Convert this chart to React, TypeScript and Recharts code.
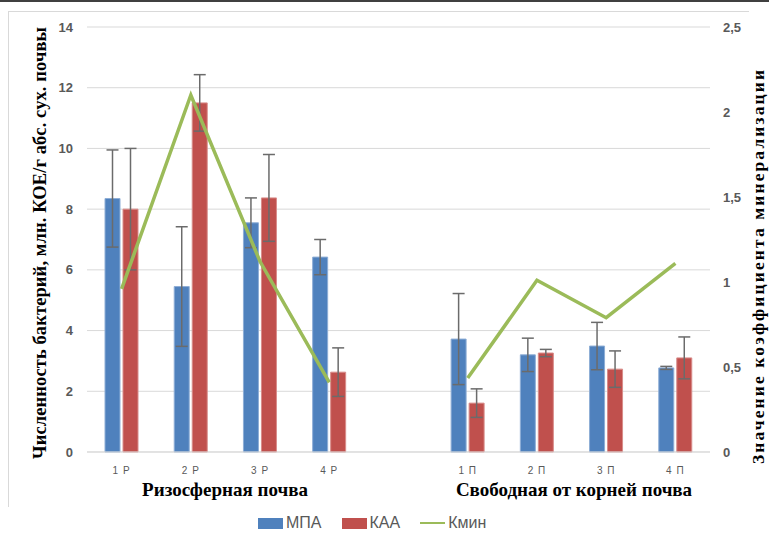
import {
  ComposedChart,
  Bar,
  Line,
  XAxis,
  YAxis,
  CartesianGrid,
  ErrorBar,
} from 'recharts';

const categories = ['1 Р', '2 Р', '3 Р', '4 Р', '', '1 П', '2 П', '3 П', '4 П'];
const mpa = [8.35, 5.45, 7.55, 6.42, null, 3.72, 3.2, 3.49, 2.77];
const mpaErr = [1.6, 1.97, 0.82, 0.58, null, 1.5, 0.55, 0.78, 0.05];
const kaa = [8.0, 11.5, 8.37, 2.63, null, 1.61, 3.26, 2.73, 3.1];
const kaaErr = [2.0, 0.93, 1.43, 0.8, null, 0.47, 0.12, 0.6, 0.69];
const kmin = [0.96, 2.1, 1.12, 0.41, null, 0.435, 1.01, 0.79, 1.11];

const leftTicks = [0, 2, 4, 6, 8, 10, 12, 14];
const rightTicks = [0, 0.5, 1, 1.5, 2, 2.5];

const groupLabels = [
  { text: 'Ризосферная почва', x: 225 },
  { text: 'Свободная от корней почва', x: 574 },
];

const leftTitle = 'Численность бактерий, млн. КОЕ/г абс. сух. почвы';
const rightTitle = 'Значение коэффициента минерализации';

const data = categories.map((name, i) => ({
  name,
  mpa: mpa[i],
  mpaErr: mpaErr[i],
  kaa: kaa[i],
  kaaErr: kaaErr[i],
  kmin: kmin[i],
}));

const BLUE = '#4f81bd';
const RED = '#c0504d';
const GREEN = '#9bbb59';
const GRID = '#d9d9d9';
const TICK = '#595959';
const ERR = '#6b6b6b';

const serif = '"Liberation Serif", "Times New Roman", serif';
const sans = '"Liberation Sans", Arial, sans-serif';

function LegendItem({ color, label, line }: { color: string; label: string; line?: boolean }) {
  return (
    <div style={{ display: 'flex', alignItems: 'center', marginRight: 20 }}>
      {line ? (
        <div style={{ width: 25, height: 2, background: color, marginRight: 3 }} />
      ) : (
        <div style={{ width: 25, height: 11, background: color, marginRight: 3 }} />
      )}
      <span style={{ fontFamily: sans, fontSize: 16, color: TICK }}>{label}</span>
    </div>
  );
}

export default function App() {
  return (
    <div style={{ position: 'absolute', left: 0, top: 0, width: 769, height: 534, background: '#fff' }}>
      <div style={{ position: 'absolute', left: 0, top: 0, width: 769, height: 2, background: '#404040' }} />
      <div
        style={{
          position: 'absolute',
          left: 8,
          top: 11,
          width: 740,
          height: 495,
          borderTop: `1px solid ${GRID}`,
          borderLeft: `1px solid ${GRID}`,
        }}
      />
      <div style={{ position: 'absolute', left: 0, top: 0 }}>
        <ComposedChart
          width={769}
          height={534}
          data={data}
          margin={{ top: 27, right: 14, bottom: 52, left: 25 }}
          barSize={15}
          barGap={3}
        >
          <CartesianGrid vertical={false} stroke={GRID} strokeWidth={1} yAxisId="left" />
          <XAxis
            dataKey="name"
            axisLine={{ stroke: GRID }}
            tickLine={false}
            tickMargin={9}
            height={30}
            tick={{ fill: TICK, fontSize: 10, fontFamily: sans, letterSpacing: 1 }}
          />
          <YAxis
            yAxisId="left"
            orientation="left"
            width={62}
            domain={[0, 14]}
            ticks={leftTicks}
            axisLine={false}
            tickLine={false}
            tickSize={0}
            tickMargin={14}
            tick={{ fill: TICK, fontSize: 13, fontWeight: 'bold', fontFamily: sans }}
          />
          <YAxis
            yAxisId="right"
            orientation="right"
            width={45}
            domain={[0, 2.5]}
            ticks={rightTicks}
            axisLine={false}
            tickLine={false}
            tickSize={0}
            tickMargin={13}
            tickFormatter={(v: number) => String(v).replace('.', ',')}
            tick={{ fill: TICK, fontSize: 13, fontWeight: 'bold', fontFamily: sans, textAnchor: 'start' }}
          />
          <Bar yAxisId="left" dataKey="mpa" name="МПА" fill={BLUE} stroke="#8eaed6" strokeWidth={1} isAnimationActive={false}>
            <ErrorBar dataKey="mpaErr" width={6} stroke={ERR} strokeWidth={1.5} direction="y" />
          </Bar>
          <Bar yAxisId="left" dataKey="kaa" name="КАА" fill={RED} stroke="#d88c8a" strokeWidth={1} isAnimationActive={false}>
            <ErrorBar dataKey="kaaErr" width={6} stroke={ERR} strokeWidth={1.5} direction="y" />
          </Bar>
          <Line
            yAxisId="right"
            type="linear"
            dataKey="kmin"
            name="Кмин"
            stroke={GREEN}
            strokeWidth={3.5}
            dot={false}
            activeDot={false}
            isAnimationActive={false}
          />
          <text
            x={40}
            y={243}
            transform="rotate(-90 40 243)"
            textAnchor="middle"
            dominantBaseline="central"
            fontFamily={serif}
            fontWeight="bold"
            fontSize={18.5}
            textLength={432}
            lengthAdjust="spacing"
            fill="#000"
          >
            {leftTitle}
          </text>
          <text
            x={758}
            y={267}
            transform="rotate(-90 758 267)"
            textAnchor="middle"
            dominantBaseline="central"
            fontFamily={serif}
            fontWeight="bold"
            fontSize={17.5}
            textLength={394}
            lengthAdjust="spacing"
            fill="#000"
          >
            {rightTitle}
          </text>
          {groupLabels.map((g) => (
            <text
              key={g.text}
              x={g.x}
              y={489}
              textAnchor="middle"
              dominantBaseline="central"
              fontFamily={serif}
              fontWeight="bold"
              fontSize={19}
              fill="#000"
            >
              {g.text}
            </text>
          ))}
        </ComposedChart>
      </div>
      <div style={{ position: 'absolute', left: 258, top: 514, display: 'flex' }}>
        <LegendItem color={BLUE} label="МПА" />
        <LegendItem color={RED} label="КАА" />
        <LegendItem color={GREEN} label="Кмин" line />
      </div>
    </div>
  );
}
